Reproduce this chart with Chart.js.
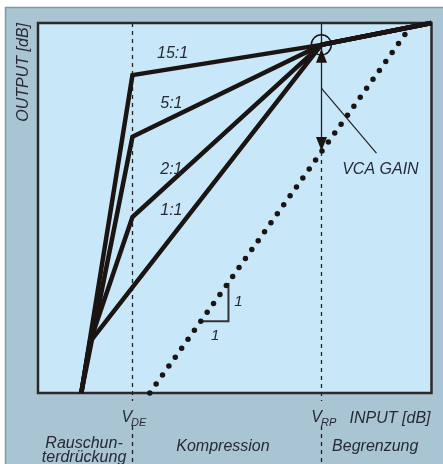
<!DOCTYPE html>
<html>
<head>
<meta charset="utf-8">
<title>Kompander-Kennlinie</title>
<script src="https://cdn.jsdelivr.net/npm/chart.js@4/dist/chart.umd.min.js"></script>
<style>
  html, body { margin: 0; padding: 0; background: #ffffff; }
  #wrap { position: absolute; left: 0; top: 0; width: 443px; height: 464px; }
  canvas { display: block; }
</style>
</head>
<body>
<div id="wrap"><canvas id="c" width="443" height="464"></canvas></div>
<script>
// Transfer curves of the compander: input level (dB) -> output level (dB)
const ratioLabels = ['15:1', '5:1', '2:1', '1:1'];
const regionNames = [['Rauschun-', 'terdrückung'], ['Kompression'], ['Begrenzung']];

const inputRange = [-72, 28];    // dB
const outputRange = [-56, 10];   // dB

const thresholdDE = -48;         // V_DE, start of compression
const thresholdRP = 0;           // V_RP, rotation point / start of limiting
const kneeOutput = 6.1;

// Each curve: [input, output] break points
const curve15 = [[-61, -56], [-48, 0.7], [0, 6.1], [28, 10]];
const curve5  = [[-61, -56], [-48, -10.3], [0, 6.1], [28, 10]];
const curve2  = [[-61, -56], [-58.8, -46.9], [-48, -24.6], [0, 6.1], [28, 10]];
const curve1  = [[-61, -56], [-58.8, -46.9], [0, 6.1], [28, 10]];

// Unity gain (1:1 without VCA) reference line
const unityGain = [[-43.6, -56], [21.5, 8.2]];
// Output of the unity line at V_RP (bottom of the VCA gain arrow)
const unityAtRP = -13.0;

// Slope step drawn on the unity line: [input0, input1], [output0, output1]
const slopeStepIn = [-30.4, -23.6];
const slopeStepOut = [-43.2, -36.4];

const toXY = pts => pts.map(([x, y]) => ({ x, y }));

const INK = '#1a1412';
const TEXT = '#272a36';
const FONT = size => `italic ${size}px "Liberation Sans", Arial, sans-serif`;

function curveDataset(pts) {
  return {
    data: toXY(pts),
    showLine: true,
    borderColor: INK,
    borderWidth: 4.5,
    borderJoinStyle: 'miter',
    borderCapStyle: 'butt',
    pointRadius: 0,
    tension: 0,
    clip: false
  };
}

const decor = {
  id: 'decor',
  beforeDraw(chart) {
    const { ctx, chartArea: a, width, height } = chart;
    ctx.save();
    ctx.fillStyle = '#ffffff';
    ctx.fillRect(0, 0, width, height);
    // outer panel
    ctx.fillStyle = '#a9c4d2';
    ctx.fillRect(5, 7, width - 5, height - 7);
    ctx.strokeStyle = '#7f98a6';
    ctx.lineWidth = 1.5;
    ctx.beginPath();
    ctx.moveTo(5.5, height);
    ctx.lineTo(5.5, 7.5);
    ctx.lineTo(width, 7.5);
    ctx.stroke();
    // plot field
    ctx.fillStyle = '#c8e7f8';
    ctx.fillRect(a.left, a.top, a.right - a.left, a.bottom - a.top);
    ctx.restore();
  },
  beforeDatasetsDraw(chart) {
    const { ctx, chartArea: a, height, scales: { x, y } } = chart;
    ctx.save();
    // plot frame
    ctx.strokeStyle = '#2a2a2a';
    ctx.lineWidth = 2.5;
    ctx.strokeRect(a.left, a.top, a.right - a.left, a.bottom - a.top);

    const xDE = Math.round(x.getPixelForValue(thresholdDE)) + 0.5;
    const xRP = Math.round(x.getPixelForValue(thresholdRP)) + 0.5;
    const yGainLow = y.getPixelForValue(unityAtRP);

    ctx.strokeStyle = '#222222';
    ctx.lineWidth = 1.3;
    // V_DE dashed marker through plot and region strip
    ctx.setLineDash([4, 4]);
    ctx.beginPath();
    ctx.moveTo(xDE, a.top);
    ctx.lineTo(xDE, a.bottom + 8);
    ctx.moveTo(xDE, a.bottom + 33);
    ctx.lineTo(xDE, height);
    // V_RP dashed below the gain arrow
    ctx.moveTo(xRP, yGainLow);
    ctx.lineTo(xRP, a.bottom + 8);
    ctx.moveTo(xRP, a.bottom + 33);
    ctx.lineTo(xRP, height);
    ctx.stroke();
    // V_RP solid above
    ctx.setLineDash([]);
    ctx.beginPath();
    ctx.moveTo(xRP, a.top);
    ctx.lineTo(xRP, yGainLow);
    ctx.stroke();

    // pointer from the gain arrow to its caption
    ctx.lineWidth = 1.2;
    ctx.beginPath();
    ctx.moveTo(x.getPixelForValue(0), y.getPixelForValue(-1.6));
    ctx.lineTo(x.getPixelForValue(14), y.getPixelForValue(-13.2));
    ctx.stroke();

    // slope step on the unity line
    ctx.strokeStyle = '#333333';
    ctx.lineWidth = 2;
    ctx.beginPath();
    ctx.moveTo(x.getPixelForValue(slopeStepIn[0]), y.getPixelForValue(slopeStepOut[0]));
    ctx.lineTo(x.getPixelForValue(slopeStepIn[1]), y.getPixelForValue(slopeStepOut[0]));
    ctx.lineTo(x.getPixelForValue(slopeStepIn[1]), y.getPixelForValue(slopeStepOut[1]));
    ctx.stroke();
    ctx.restore();
  },
  afterDatasetsDraw(chart) {
    const { ctx, chartArea: a, scales: { x, y } } = chart;
    const px = v => x.getPixelForValue(v);
    const py = v => y.getPixelForValue(v);
    ctx.save();

    // VCA gain arrow heads
    const xRP = Math.round(px(thresholdRP)) + 0.5;
    const tri = (tipY, dir) => {
      ctx.beginPath();
      ctx.moveTo(xRP, tipY);
      ctx.lineTo(xRP - 5.5, tipY + dir * 14);
      ctx.lineTo(xRP + 5.5, tipY + dir * 14);
      ctx.closePath();
      ctx.fill();
    };
    ctx.fillStyle = INK;
    tri(py(kneeOutput) + 4, 1);
    tri(py(unityAtRP) - 1, -1);

    ctx.fillStyle = TEXT;
    ctx.textBaseline = 'middle';
    ctx.textAlign = 'center';
    ctx.font = FONT(16);
    // ratio captions
    const ratioPos = [[-37.8, 4.6], [-38.1, -4.3], [-38.1, -16.2], [-38.1, -23.4]];
    ratioLabels.forEach((t, i) => ctx.fillText(t, px(ratioPos[i][0]), py(ratioPos[i][1])));

    // slope step captions
    ctx.font = FONT(15);
    ctx.fillText('1', px(slopeStepIn[1]) + 10, (py(slopeStepOut[0]) + py(slopeStepOut[1])) / 2);
    ctx.fillText('1', (px(slopeStepIn[0]) + px(slopeStepIn[1])) / 2, py(slopeStepOut[0]) + 15);

    // gain caption
    ctx.font = FONT(16);
    ctx.textAlign = 'left';
    ctx.fillText('VCA GAIN', px(5.3), py(-16.2));

    // axis captions
    ctx.textBaseline = 'alphabetic';
    ctx.textAlign = 'right';
    ctx.fillText('INPUT [dB]', a.right - 1, a.bottom + 30);

    const subLabel = (main, sub, left) => {
      ctx.textAlign = 'left';
      ctx.font = FONT(16);
      ctx.fillText(main, left, a.bottom + 29);
      const w = ctx.measureText(main).width;
      ctx.font = FONT(11);
      ctx.fillText(sub, left + w - 1, a.bottom + 33);
    };
    subLabel('V', 'DE', px(thresholdDE) - 11);
    subLabel('V', 'RP', px(thresholdRP) - 10);

    ctx.save();
    ctx.font = FONT(16);
    ctx.translate(28, a.top);
    ctx.rotate(-Math.PI / 2);
    ctx.textAlign = 'right';
    ctx.fillText('OUTPUT [dB]', 0, 0);
    ctx.restore();

    // operating regions
    ctx.font = FONT(16);
    ctx.textAlign = 'center';
    const regionX = [-60.3, -25, 13.7];
    const regionBase = [[a.bottom + 55, a.bottom + 69], [a.bottom + 58], [a.bottom + 58]];
    regionNames.forEach((lines, i) => {
      lines.forEach((t, j) => ctx.fillText(t, px(regionX[i]), regionBase[i][j]));
    });
    ctx.restore();
  }
};

new Chart(document.getElementById('c'), {
  type: 'scatter',
  data: {
    datasets: [
      curveDataset(curve15),
      curveDataset(curve5),
      curveDataset(curve2),
      curveDataset(curve1),
      {
        data: toXY(unityGain),
        showLine: true,
        borderColor: INK,
        borderWidth: 5.5,
        borderDash: [0, 11],
        borderCapStyle: 'round',
        pointRadius: 0,
        tension: 0,
        clip: false
      },
      {
        data: [{ x: thresholdRP, y: kneeOutput }],
        showLine: false,
        pointRadius: 10,
        pointBackgroundColor: 'rgba(0,0,0,0)',
        pointBorderColor: INK,
        pointBorderWidth: 1.5,
        clip: false
      }
    ]
  },
  options: {
    responsive: false,
    animation: false,
    devicePixelRatio: 1,
    events: [],
    layout: { padding: { left: 38, top: 23, right: 4, bottom: 71 } },
    scales: {
      x: { type: 'linear', min: inputRange[0], max: inputRange[1], display: false },
      y: { type: 'linear', min: outputRange[0], max: outputRange[1], display: false }
    },
    plugins: { legend: { display: false }, tooltip: { enabled: false } }
  },
  plugins: [decor]
});
</script>
</body>
</html>
